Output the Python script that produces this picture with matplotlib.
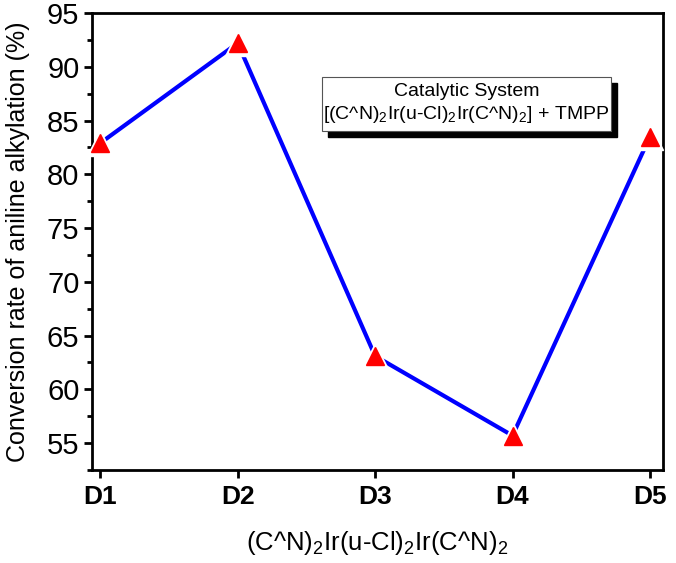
import matplotlib
matplotlib.use("Agg")
import matplotlib.pyplot as plt
from matplotlib.patches import Rectangle
from matplotlib.ticker import MultipleLocator

plt.rcParams["font.family"] = ["Liberation Sans", "DejaVu Sans"]
plt.rcParams["mathtext.fontset"] = "custom"
plt.rcParams["mathtext.rm"] = "Liberation Sans"

catalysts = ["D1", "D2", "D3", "D4", "D5"]
conversion = [82.9, 92.2, 63.1, 55.7, 83.5]

fig = plt.figure(figsize=(6.76, 5.63), dpi=100)
ax = fig.add_axes([92 / 676, 1 - 470 / 563, 571 / 676, 457 / 563])

x = list(range(len(catalysts)))
ax.plot(x, conversion, "-", color="blue", lw=3.0, zorder=2)
# white halo gives the small gap between line and symbol
ax.plot(x, conversion, "^", color="white", ms=19, mec="white", zorder=3, clip_on=False)
ax.plot(x, conversion, "^", color="red", ms=13, mec="red", zorder=4, clip_on=False)

ax.set_xlim(-0.06, 4.095)
ax.set_ylim(52.5, 95)
ax.set_xticks(x)
ax.set_xticklabels(catalysts, fontweight="bold", fontsize=19)
ax.yaxis.set_major_locator(MultipleLocator(5))
ax.yaxis.set_minor_locator(MultipleLocator(2.5))
ax.tick_params(axis="y", labelsize=21, width=2, length=6, direction="out", pad=3)
ax.tick_params(axis="y", which="minor", width=2, length=3.5)
ax.tick_params(axis="x", width=2, length=6, direction="out", pad=5)
for sp in ax.spines.values():
    sp.set_linewidth(2)

ax.set_ylabel("Conversion rate of aniline alkylation (%)", fontsize=18, labelpad=12)
ax.set_xlabel(r"(C^N)$_\mathregular{2}$Ir(u-Cl)$_\mathregular{2}$Ir(C^N)$_\mathregular{2}$",
              fontsize=18.5, labelpad=14)

# caption box with drop shadow
bx, by, bw, bh = 0.403, 0.742, 0.506, 0.118
ax.add_patch(Rectangle((bx + 0.01, by - 0.013), bw, bh, transform=ax.transAxes,
                       facecolor="black", edgecolor="black", zorder=5))
ax.add_patch(Rectangle((bx, by), bw, bh, transform=ax.transAxes,
                       facecolor="white", edgecolor="#555555", lw=0.8, zorder=6))
ax.text(bx + bw / 2, by + bh * 0.74, "Catalytic System", transform=ax.transAxes,
        ha="center", va="center", fontsize=14, zorder=7)
ax.text(bx + bw / 2, by + bh * 0.3,
        r"[(C^N)$_\mathregular{2}$Ir(u-Cl)$_\mathregular{2}$Ir(C^N)$_\mathregular{2}$] + TMPP",
        transform=ax.transAxes, ha="center", va="center", fontsize=14, zorder=7)

fig.savefig("out.png", dpi=100)
